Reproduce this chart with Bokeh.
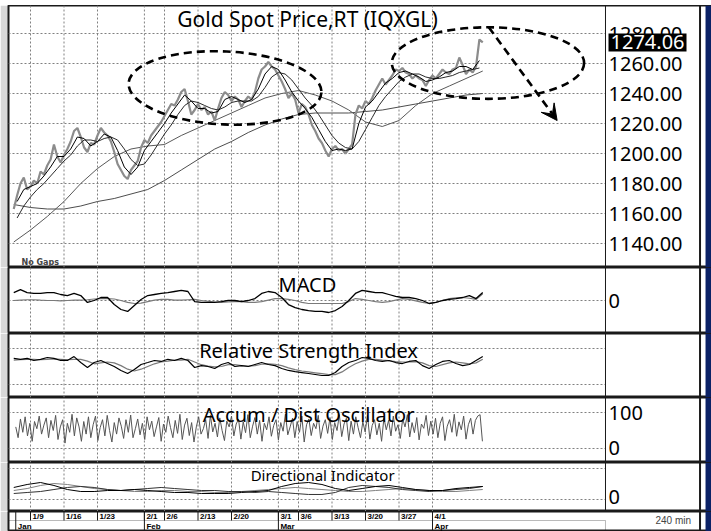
import numpy as np
from bokeh.plotting import figure
from bokeh.layouts import column
from bokeh.models import Range1d, Span, Label, Arrow, VeeHead, BoxAnnotation
from bokeh.core.properties import value
from bokeh.embed import file_html
from bokeh.resources import INLINE

# ---------------- data (x in trading days, day 0 = 2017-01-03) ----------------
day_ticks = [4, 9, 14, 21, 24, 29, 34, 41, 44, 49, 54, 59, 64]
day_labels = ["1/9", "1/16", "1/23", "2/1", "2/6", "2/13", "2/20", "3/1", "3/6", "3/13", "3/20", "3/27", "4/1"]
month_ticks = [1.8, 21, 41, 64]
month_labels = ["Jan", "Feb", "Mar", "Apr"]

# Gold spot price (240-min chart), sampled every half trading day
price_start, price_step = 1.5, 0.5
price = [
    1163, 1172, 1180, 1184, 1176, 1178, 1182, 1180, 1188, 1186,
    1192, 1196, 1206, 1198, 1194, 1199, 1203, 1208, 1215, 1217,
    1211, 1204, 1201, 1207, 1206, 1212, 1217, 1214, 1212, 1208,
    1201, 1193, 1189, 1185, 1183, 1189, 1192, 1195, 1204, 1209,
    1207, 1212, 1215, 1218, 1221, 1225, 1229, 1233, 1232, 1236,
    1241, 1243, 1235, 1226, 1229, 1233, 1229, 1231, 1226, 1228,
    1222, 1230, 1237, 1241, 1239, 1235, 1238, 1236, 1231, 1235,
    1238, 1236, 1241, 1250, 1256, 1258, 1261, 1258, 1256, 1252,
    1248, 1243, 1237, 1240, 1236, 1227, 1233, 1231, 1226, 1219,
    1215, 1210, 1207, 1202, 1198, 1203, 1205, 1202, 1203, 1200,
    1203, 1206, 1226, 1232, 1230, 1235, 1233, 1237, 1242, 1246,
    1250, 1246, 1249, 1252, 1256, 1255, 1257, 1254, 1253, 1250,
    1252, 1250, 1249, 1245, 1249, 1252, 1250, 1253, 1256, 1254,
    1253, 1256, 1257, 1264, 1259, 1253, 1256, 1254, 1258, 1276,
    1274.06,
]
# short moving averages, one value per trading day
ma_start, ma_step = 2.0, 1.0
ma_fast = [
    1168, 1176, 1178, 1180, 1185, 1191, 1198, 1198, 1203, 1211,
    1210, 1205, 1208, 1213, 1211, 1202, 1191, 1186, 1191, 1202,
    1208, 1214, 1220, 1227, 1233, 1239, 1235, 1230, 1230, 1227,
    1228, 1236, 1238, 1236, 1234, 1236, 1243, 1253, 1258, 1256,
    1249, 1241, 1235, 1230, 1224, 1216, 1208, 1202, 1203, 1202,
    1203, 1220, 1231, 1235, 1241, 1247, 1250, 1254, 1255, 1253,
    1251, 1248, 1249, 1251, 1254, 1255, 1258, 1258, 1256, 1262,
]
ma_mid = [
    1157, 1165, 1171, 1176, 1180, 1185, 1190, 1195, 1199, 1205,
    1209, 1209, 1208, 1210, 1211, 1209, 1203, 1196, 1192, 1193,
    1199, 1206, 1213, 1219, 1226, 1232, 1235, 1234, 1232, 1230,
    1229, 1231, 1234, 1235, 1235, 1235, 1238, 1244, 1251, 1254,
    1253, 1249, 1243, 1237, 1232, 1226, 1219, 1212, 1207, 1204,
    1203, 1208, 1216, 1224, 1232, 1238, 1243, 1248, 1251, 1253,
    1253, 1251, 1250, 1250, 1251, 1252, 1254, 1255, 1256, 1257,
]
# slow moving averages, every 2.5 trading days
slow_start, slow_step = 1.5, 2.5
ma_50 = [
    1141, 1149, 1158, 1168, 1180, 1190, 1198, 1203, 1205, 1206,
    1212, 1217, 1222, 1227, 1232, 1237, 1240, 1242, 1239, 1235,
    1229, 1221, 1218, 1222, 1232, 1240, 1245, 1250, 1255,
]
ma_200 = [
    1166, 1164, 1163, 1163, 1165, 1168, 1170, 1173, 1176, 1182,
    1189, 1196, 1203, 1208, 1214, 1219, 1223, 1226, 1227, 1227,
    1227, 1228, 1229, 1231, 1233, 1235, 1237, 1239, 1240,
]
price_ticks = [1140, 1160, 1180, 1200, 1220, 1240, 1260, 1280]
price_tick_labels = ["1140.00", "1160.00", "1180.00", "1200.00", "1220.00", "1240.00", "1260.00", "1280.00"]

# indicators, one value per trading day
ind_start, ind_step = 1.5, 1.0
macd = [
    5.3, 7.3, 5.3, 4.7, 4.7, 5.3, 5.3, 4.0, 3.3, 4.7,
    3.3, -1.3, 0.0, 2.0, 2.0, -2.7, -6.0, -7.3, -3.3, 0.7,
    3.3, 4.0, 4.7, 5.3, 6.0, 6.7, 6.0, -0.7, -1.3, -1.3,
    -1.3, -0.7, 0.0, 0.0, -0.7, 0.0, 1.3, 4.7, 6.0, 5.3,
    2.0, -2.7, -4.7, -6.0, -6.7, -7.3, -7.3, -8.0, -6.7, -4.0,
    0.0, 4.7, 6.7, 6.0, 5.3, 5.3, 4.0, 2.7, 2.0, 2.0,
    1.3, 0.0, -2.0, -1.3, 0.0, 0.7, 1.3, 2.0, 3.3, 1.3,
    5.3,
]
macd_signal = [
    0.0, 0.3, 0.5, 0.5, 0.2, 0.0, 0.0, -0.2, 0.0, 0.2,
    0.3, 0.5, 1.0, 1.3, 1.3, 1.0, 0.0, -1.3, -2.0, -1.7,
    -0.7, 0.3, 0.7, 0.7, 0.3, 0.3, 0.5, 0.7, 0.0, -0.5,
    -1.0, -1.3, -1.0, -0.7, -0.7, -1.3, -1.3, -0.7, 0.3, 1.3,
    1.3, 0.7, 0.0, -1.3, -2.0, -2.0, -2.0, -2.0, -2.0, -2.0,
    -0.7, 1.3, 0.7, 0.0, -0.7, -1.3, -0.7, 0.3, 1.3, 0.7,
    -0.3, -1.3, -2.0, -1.3, 0.0, 1.3, 1.7, 2.0, 1.5, 0.7,
    4.5,
]
macd_ticks, macd_tick_labels = [0], ["0"]
rsi = [
    59, 58, 59, 56.7, 58, 60, 59, 56.7, 56.7, 61,
    54.4, 48.9, 54.4, 56.7, 53.3, 50, 45.6, 42.2, 46.7, 52.2,
    54.4, 56.7, 55.6, 58, 56.7, 59, 56.7, 48.9, 51, 50,
    47.8, 52.2, 54.4, 50, 51, 50, 52.2, 54.4, 52.2, 51,
    47.8, 45.6, 44.4, 43.3, 42.2, 41.1, 40, 40, 43.3, 50,
    54.4, 56.7, 60, 59, 56.7, 55.6, 56.7, 54.4, 53.3, 55.6,
    56.7, 51, 47.8, 52.2, 55.6, 56.7, 53.3, 51, 52.2, 56.7,
    61,
]
rsi_signal = [
    57, 57.5, 58, 58, 57.5, 58, 58.5, 58, 57.5, 58,
    58, 56, 53, 54, 55, 54, 51, 47, 45, 47,
    50, 53, 55, 56, 57, 57, 58, 55, 52, 50.5,
    49.5, 50, 52, 52, 51, 50.5, 51, 52.5, 53, 52.5,
    51, 48.5, 46.5, 45, 44, 43, 42, 41, 41, 44,
    49, 53, 56, 58, 58, 57, 56.5, 55.5, 55, 55,
    55.5, 54, 51, 50, 52, 54, 55, 54, 53, 54,
    58,
]
rsi_grid = [30, 70]
ad_start, ad_step = 1.8, 0.35
ad_osc = [
    60, 30, 82, 45, 88, 35, 70, 20, 75, 55, 90, 40, 65, 85, 30, 78, 50, 92, 25, 60,
    80, 15, 70, 45, 95, 35, 85, 60, 20, 75, 40, 88, 30, 66, 90, 22, 58, 80, 35, 92,
    50, 18, 72, 40, 85, 62, 28, 80, 45, 93, 30, 55, 82, 38, 70, 25, 88, 52, 76, 33,
    60, 86, 20, 68, 45, 90, 58, 30, 78, 42, 95, 25, 65, 84, 36, 72, 18, 60, 88, 40,
    55, 80, 28, 92, 46, 70, 32, 85, 50, 22, 76, 60, 90, 35, 68, 82, 26, 74, 44, 94,
    30, 62, 86, 40, 78, 20, 70, 52, 88, 34, 64, 80, 24, 72, 48, 96, 38, 60, 84, 30,
    75, 45, 90, 18, 66, 82, 36, 70, 55, 92, 28, 62, 80, 42, 86, 25, 72, 50, 94, 33,
    68, 84, 22, 76, 40, 88, 58, 30, 74, 46, 92, 26, 64, 80, 38, 70, 20, 85, 52, 78,
    35, 90, 48, 66, 28, 82, 60, 94, 32, 72, 44, 86, 24, 68, 56, 92, 36, 76, 40, 84,
    30, 70, 88, 22, 62, 80, 45, 95, 34, 74, 52, 90, 26, 66, 84, 40, 78, 90, 94, 20,
]
ad_ticks, ad_tick_labels = [100, 0], ["100", "0"]
di_start, di_step = 1.5, 2.0
di_a = [
    19.4, 24.2, 27.4, 22.6, 16.1, 12.9, 12.9, 14.5, 14.5, 16.1,
    14.5, 12.9, 11.3, 11.3, 9.7, 9.7, 9.7, 11.3, 12.9, 14.5,
    21.0, 25.8, 27.4, 24.2, 17.7, 14.5, 17.7, 21.0, 22.6, 19.4,
    16.1, 14.5, 14.5, 17.7, 19.4, 21.0,
]
di_b = [
    9.7, 11.3, 12.9, 16.1, 19.4, 21.0, 19.4, 16.1, 14.5, 16.1,
    17.7, 19.4, 17.7, 16.1, 14.5, 14.5, 12.9, 12.9, 11.3, 12.9,
    11.3, 9.7, 8.1, 8.1, 11.3, 19.4, 22.6, 21.0, 19.4, 16.1,
    14.5, 12.9, 14.5, 16.1, 17.7, 21.0,
]
adx = [
    14.5, 17.7, 22.6, 25.8, 24.2, 21.0, 17.7, 16.1, 14.5, 12.9,
    12.9, 14.5, 14.5, 12.9, 12.9, 11.3, 11.3, 12.9, 14.5, 16.1,
    17.7, 19.4, 17.7, 16.1, 14.5, 12.9, 12.9, 14.5, 16.1, 17.7,
    16.1, 14.5, 12.9, 12.9, 14.5, 16.1,
]
di_grid = [0, 50]
di_ticks, di_tick_labels = [0], ["0"]


def xs(start, step, arr):
    return start + step * np.arange(len(arr))


# ---------------- layout constants ----------------
W = 711
LEFT = 8                      # grey strip at the left edge
PX_PER_DAY = 6.7
X0 = 4 - 22 / PX_PER_DAY      # day value at the frame's left edge
X1 = X0 + (W - LEFT) / PX_PER_DAY
DIVIDER = 89.82               # right label column divider (day units)
LABEL_X = 90.27               # left edge of right-hand labels
EDGE_LINE = 103.93            # window frame line on the right
EDGE_BLUE = 104.75            # start of the blue window edge
FONT = "Noto Sans"
GRID_COLOR = "#808080"
GRID_DASH = "2 2"
EDGE = "#1a1a1a"
NAVY = "#0c2266"
GREY = "#d8d8d8"

x_range = Range1d(X0, X1)


def base(height, y0, y1):
    p = figure(width=W, height=height, x_range=x_range, y_range=Range1d(y0, y1),
               x_axis_location=None, y_axis_location=None, title=None,
               toolbar_location=None, output_backend="svg",
               min_border_left=LEFT, min_border_right=0, min_border_top=0, min_border_bottom=0)
    p.outline_line_color = EDGE
    p.outline_line_width = 2
    p.background_fill_color = "white"
    p.border_fill_color = GREY
    p.grid.visible = False
    p.add_layout(Span(location=EDGE_LINE, dimension="height", line_color=EDGE, line_width=2))
    p.add_layout(BoxAnnotation(left=EDGE_BLUE, fill_color=NAVY, fill_alpha=1.0, line_color=None))
    return p


def panel(height, y0, y1, hgrid):
    p = base(height, y0, y1)
    n = len(day_ticks)
    p.segment(x0=day_ticks, x1=day_ticks, y0=[y0] * n, y1=[y1] * n,
              line_color=GRID_COLOR, line_width=1, line_dash=GRID_DASH)
    p.segment(x0=[X0] * len(hgrid), x1=[DIVIDER] * len(hgrid), y0=hgrid, y1=hgrid,
              line_color=GRID_COLOR, line_width=1, line_dash=GRID_DASH)
    p.add_layout(Span(location=DIVIDER, dimension="height", line_color=EDGE, line_width=1))
    return p


def right_labels(p, ticks, labels, y_offset=0):
    p.text(x=[LABEL_X] * len(ticks), y=ticks, text=labels, text_font=value(FONT),
           text_font_size="20px", text_align="left", text_baseline="middle",
           text_color="black", y_offset=y_offset)


def title_label(p, x, y, text, size="20px"):
    p.add_layout(Label(x=x, y=y, text=text, text_font=FONT, text_font_size=size,
                       text_align="center", text_baseline="middle", text_color="black"))


# ---------------- window title bar ----------------
bar = figure(width=W, height=5, x_range=x_range, y_range=Range1d(0, 1),
             x_axis_location=None, y_axis_location=None, title=None,
             toolbar_location=None, output_backend="svg",
             min_border_left=0, min_border_right=0, min_border_top=0, min_border_bottom=0)
bar.outline_line_color = None
bar.background_fill_color = NAVY
bar.border_fill_color = NAVY
bar.grid.visible = False

# ---------------- price panel ----------------
p1 = panel(262, 1124.0, 1298.67, price_ticks)
p1.line(xs(slow_start, slow_step, ma_200), ma_200, line_color="#4d4d4d", line_width=1)
p1.line(xs(slow_start, slow_step, ma_50), ma_50, line_color="#595959", line_width=1)
p1.line(xs(price_start, price_step, price), price, line_color="#8c8c8c", line_width=2.2)
p1.line(xs(ma_start, ma_step, ma_mid), ma_mid, line_color="#2a2a2a", line_width=1)
p1.line(xs(ma_start, ma_step, ma_fast), ma_fast, line_color="#000000", line_width=1)
right_labels(p1, price_ticks, price_tick_labels)
p1.add_layout(Label(x=LABEL_X, y=price[-1], text=f"{price[-1]:.2f}", text_font=FONT,
                    text_font_size="20px", text_color="white", background_fill_color="black",
                    text_baseline="middle", text_align="left", padding=2))
title_label(p1, 45.34, 1290, "Gold Spot Price,RT (IQXGL)", size="21px")
p1.add_layout(Label(x=2.66, y=1127.3, text="No Gaps", text_font="DejaVu Sans",
                    text_font_size="8px", text_font_style="bold", text_baseline="middle"))
# hand-drawn annotation: two dashed ellipses and a dashed arrow
p1.ellipse(x=[33.03], y=[1243.7], width=[28.8], height=[48.7], angle=-0.047,
           fill_color=None, line_color="black", line_width=2.6, line_dash="8 5")
p1.ellipse(x=[72.28], y=[1260.3], width=[28.7], height=[47.7], angle=0.0,
           fill_color=None, line_color="black", line_width=2.6, line_dash="8 5")
p1.add_layout(Arrow(x_start=72.4, y_start=1284.2, x_end=82.6, y_end=1222.0,
                    line_color="black", line_width=2.6, line_dash="8 5",
                    end=VeeHead(size=16, fill_color="black", line_color="black")))

# ---------------- MACD ----------------
p2 = panel(66, -22.0, 22.0, macd_ticks)
p2.line(xs(ind_start, ind_step, macd_signal), macd_signal, line_color="#7a7a7a", line_width=1.2)
p2.line(xs(ind_start, ind_step, macd), macd, line_color="#000000", line_width=1.3)
right_labels(p2, macd_ticks, macd_tick_labels)
title_label(p2, 45.34, 10.67, "MACD")

# ---------------- RSI ----------------
p3 = panel(64, 15.56, 86.67, rsi_grid)
p3.line(xs(ind_start, ind_step, rsi_signal), rsi_signal, line_color="#7a7a7a", line_width=1.2)
p3.line(xs(ind_start, ind_step, rsi), rsi, line_color="#000000", line_width=1.2)
title_label(p3, 45.5, 67.8, "Relative Strength Index")

# ---------------- Accum / Dist ----------------
p4 = panel(65, -38.89, 141.67, ad_ticks)
p4.line(xs(ad_start, ad_step, ad_osc), ad_osc, line_color="#555555", line_width=1)
right_labels(p4, ad_ticks, ad_tick_labels)
title_label(p4, 45.5, 94.4, "Accum / Dist Oscillator")

# ---------------- Directional Indicator ----------------
p5 = panel(49, -19.35, 59.68, di_grid)
p5.line(xs(di_start, di_step, adx), adx, line_color="#808080", line_width=1)
p5.line(xs(di_start, di_step, di_b), di_b, line_color="#333333", line_width=1)
p5.line(xs(di_start, di_step, di_a), di_a, line_color="#000000", line_width=1)
right_labels(p5, di_ticks, di_tick_labels, y_offset=-3)
title_label(p5, 47.6, 40.3, "Directional Indicator", size="15px")

# ---------------- date strip ----------------
ax = base(20, 0, 20)
ax.add_layout(BoxAnnotation(left=X0 - 2, right=DIVIDER, bottom=-2, top=11,
                            fill_color=None, line_color=EDGE, line_width=1))
ax.segment(x0=day_ticks, y0=[20] * len(day_ticks), x1=day_ticks, y1=[11] * len(day_ticks),
           line_color=EDGE, line_width=1)
ax.segment(x0=month_ticks, y0=[20] * len(month_ticks), x1=month_ticks, y1=[0] * len(month_ticks),
           line_color=EDGE, line_width=1)
ax.text(x=day_ticks, y=[15.2] * len(day_ticks), text=day_labels, x_offset=2,
        text_font=value("Liberation Sans"), text_font_size="8px", text_font_style="bold",
        text_align="left", text_baseline="middle")
ax.text(x=month_ticks, y=[5.2] * len(month_ticks), text=month_labels, x_offset=2,
        text_font=value("Liberation Sans"), text_font_size="8px", text_font_style="bold",
        text_align="left", text_baseline="middle")
ax.add_layout(Label(x=97.28, y=11.5, text="240 min", text_font="Liberation Sans",
                    text_font_size="10px", text_baseline="middle", text_align="left"))

layout = column(bar, p1, p2, p3, p4, p5, ax, spacing=0)
open("out.html", "w").write(file_html(layout, INLINE))
